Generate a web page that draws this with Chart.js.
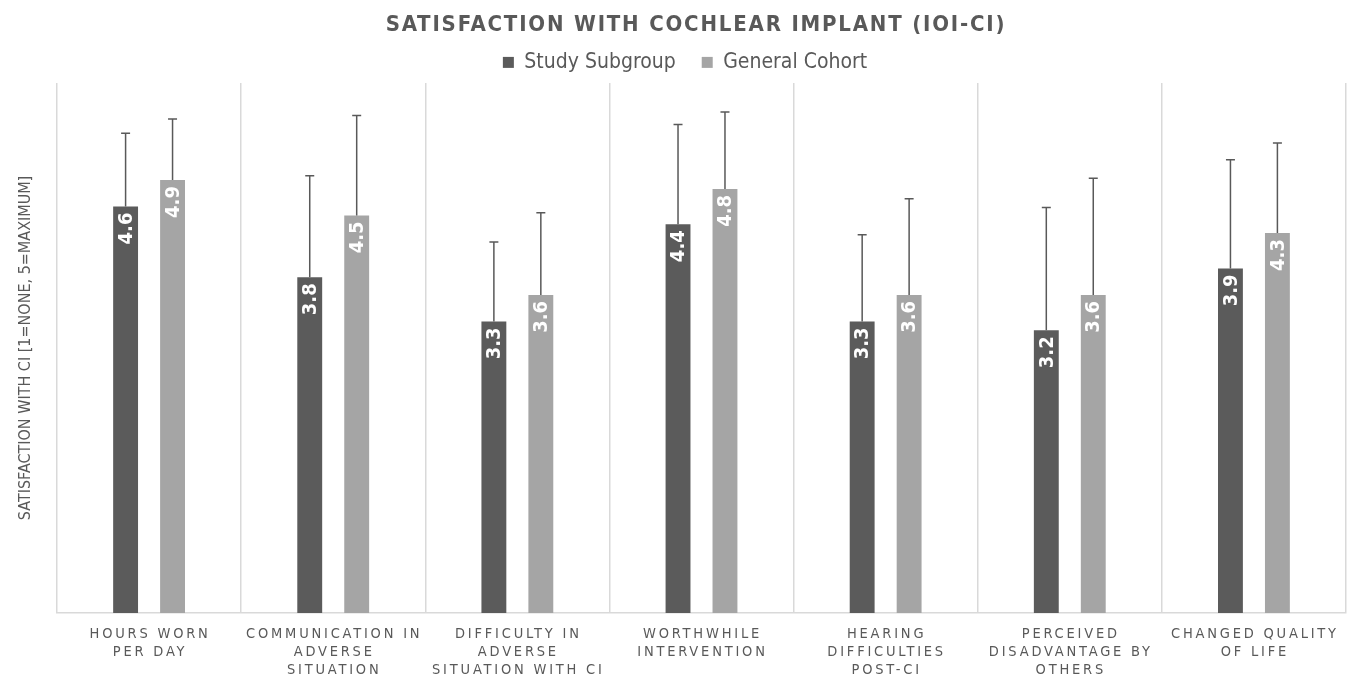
<!DOCTYPE html>
<html>
<head>
<meta charset="utf-8">
<script src="https://cdn.jsdelivr.net/npm/chart.js@4/dist/chart.umd.min.js"></script>
<style>
    html, body { margin: 0; padding: 0; background: #fff; }
    #chart { display: block; }
</style>
</head>
<body>
<canvas id="chart" width="1356" height="679"></canvas>
<script>
// categories (multi-line axis labels)
const categories = [
    ['HOURS WORN', 'PER DAY'],
    ['COMMUNICATION IN', 'ADVERSE', 'SITUATION'],
    ['DIFFICULTY IN', 'ADVERSE', 'SITUATION WITH CI'],
    ['WORTHWHILE', 'INTERVENTION'],
    ['HEARING', 'DIFFICULTIES', 'POST-CI'],
    ['PERCEIVED', 'DISADVANTAGE BY', 'OTHERS'],
    ['CHANGED QUALITY', 'OF LIFE']
];

const studyValues = [4.6, 3.8, 3.3, 4.4, 3.3, 3.2, 3.9];
const cohortValues = [4.9, 4.5, 3.6, 4.8, 3.6, 3.6, 4.3];

// upper error (SD)
const studyErrors = [0.83, 1.15, 0.90, 1.13, 0.98, 1.39, 1.23];
const cohortErrors = [0.69, 1.13, 0.93, 0.87, 1.09, 1.32, 1.02];

const FONT = "'DejaVu Sans Condensed', 'DejaVu Sans', sans-serif";
const TEXT = '#595959';

// letter spacing / small offsets for title, legend and category labels
const spacingPlugin = {
    id: 'spacing',
    afterLayout(chart) {
        const wrap = (obj, fn, sp, dx) => {
            if (!obj || obj['_sp_' + fn]) return;
            const orig = obj[fn].bind(obj);
            obj[fn] = function (...args) {
                const ctx = chart.ctx;
                ctx.save();
                ctx.letterSpacing = sp;
                ctx.translate(dx, 0);
                orig(...args);
                ctx.restore();
            };
            obj['_sp_' + fn] = true;
        };
        wrap(chart.titleBlock, 'draw', '1.8px', 19);
        wrap(chart.legend, 'draw', '0px', 8);
        wrap(chart.scales.x, 'drawLabels', '2.8px', 1);
    }
};

const errorBarPlugin = {
    id: 'errorBars',
    afterDatasetsDraw(chart) {
        const ctx = chart.ctx;
        const yScale = chart.scales.y;
        const errs = [studyErrors, cohortErrors];
        chart.data.datasets.forEach((ds, di) => {
            const meta = chart.getDatasetMeta(di);
            meta.data.forEach((bar, i) => {
                const v = ds.data[i];
                const top = yScale.getPixelForValue(v + errs[di][i]);
                ctx.save();
                ctx.strokeStyle = TEXT;
                ctx.lineWidth = 1.5;
                ctx.beginPath();
                ctx.moveTo(bar.x, bar.y);
                ctx.lineTo(bar.x, top);
                ctx.moveTo(bar.x - 4.5, top);
                ctx.lineTo(bar.x + 4.5, top);
                ctx.stroke();

                // value label, rotated, inside the bar
                ctx.translate(bar.x, bar.y + 6);
                ctx.rotate(-Math.PI / 2);
                ctx.fillStyle = '#fff';
                ctx.font = 'bold 20px ' + FONT;
                ctx.textAlign = 'right';
                ctx.textBaseline = 'middle';
                ctx.fillText(v.toFixed(1), 0, 1);
                ctx.restore();
            });
        });
    }
};

new Chart(document.getElementById('chart'), {
    type: 'bar',
    data: {
        labels: categories,
        datasets: [
            {
                label: 'Study Subgroup',
                data: studyValues,
                backgroundColor: '#5b5b5b',
                categoryPercentage: 0.51,
                barPercentage: 0.53
            },
            {
                label: 'General Cohort',
                data: cohortValues,
                backgroundColor: '#a5a5a5',
                categoryPercentage: 0.51,
                barPercentage: 0.53
            }
        ]
    },
    options: {
        responsive: false,
        animation: false,
        layout: { padding: { left: 8, right: 10, top: 0, bottom: -12 } },
        plugins: {
            title: {
                display: true,
                text: 'SATISFACTION WITH COCHLEAR IMPLANT (IOI-CI)',
                color: TEXT,
                font: { family: FONT, size: 22, weight: 'bold' },
                padding: { top: 12, bottom: -12.5 }
            },
            legend: {
                labels: {
                    color: TEXT,
                    font: { family: FONT, size: 21, lineHeight: 1.49 },
                    boxWidth: 11,
                    boxHeight: 11,
                    padding: 26
                }
            },
            tooltip: { enabled: false }
        },
        scales: {
            x: {
                offset: true,
                grid: { offset: true, color: '#d9d9d9', lineWidth: 1.5, drawTicks: false },
                border: { color: '#d9d9d9', width: 1.5 },
                ticks: {
                    color: TEXT,
                    font: { family: FONT, size: 14.5, lineHeight: 18 / 14.5 },
                    padding: 12,
                    maxRotation: 0,
                    autoSkip: false
                }
            },
            y: {
                min: 0,
                max: 6,
                grid: { display: false, drawTicks: false },
                border: { display: false },
                ticks: { display: false },
                title: {
                    display: true,
                    text: 'SATISFACTION WITH CI [1=NONE, 5=MAXIMUM]',
                    color: TEXT,
                    font: { family: FONT, size: 16 },
                    padding: { top: 8.4, bottom: 21.4 }
                }
            }
        }
    },
    plugins: [spacingPlugin, errorBarPlugin]
});
</script>
</body>
</html>
